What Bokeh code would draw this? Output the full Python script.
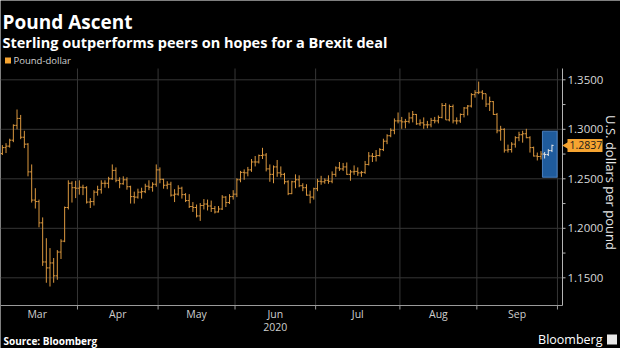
import math
import pandas as pd
from bokeh.plotting import figure
from bokeh.models import ColumnDataSource, Range1d
from bokeh.core.properties import value
from bokeh.embed import file_html
from bokeh.resources import INLINE

# ---------------- data (GBP/USD daily OHLC) ----------------
title = "Pound Ascent"
subtitle = "Sterling outperforms peers on hopes for a Brexit deal"
series_name = "Pound-dollar"
y_title = "U.S. dollars per pound"
source_text = "Source: Bloomberg"
brand_text = "Bloomberg"
dates = pd.bdate_range("2020-03-02", "2020-09-29")
month_labels = ["Mar", "Apr", "May", "Jun", "Jul", "Aug", "Sep"]
year_label = "2020"
y_ticks = [1.15, 1.20, 1.25, 1.30, 1.35]
y_minor = [1.175, 1.225, 1.275, 1.325]
last_value = 1.2837

opens = [
    1.2825, 1.2755, 1.2815, 1.2830, 1.2890, 1.3040, 1.3110, 1.2920, 1.2850, 1.2570, 1.2285,
    1.2270, 1.2055, 1.1660, 1.1600, 1.1650, 1.1520, 1.1760, 1.1870, 1.2210, 1.2455, 1.2410,
    1.2405, 1.2415, 1.2410, 1.2265, 1.2270, 1.2365, 1.2390, 1.2455, 1.2455, 1.2500, 1.2585,
    1.2485, 1.2450, 1.2490, 1.2420, 1.2320, 1.2315, 1.2365, 1.2370, 1.2425, 1.2415, 1.2445,
    1.2590, 1.2495, 1.2435, 1.2445, 1.2335, 1.2345, 1.2405, 1.2340, 1.2280, 1.2220, 1.2210,
    1.2125, 1.2230, 1.2245, 1.2225, 1.2200, 1.2165, 1.2195, 1.2315, 1.2260, 1.2320,
    1.2345, 1.2490, 1.2565, 1.2560, 1.2590, 1.2670, 1.2670, 1.2735, 1.2740, 1.2600, 1.2545,
    1.2620, 1.2560, 1.2545, 1.2470, 1.2350, 1.2470, 1.2490, 1.2430, 1.2410, 1.2335, 1.2315,
    1.2400, 1.2475, 1.2470, 1.2485, 1.2475, 1.2545, 1.2610, 1.2600, 1.2620, 1.2545, 1.2570,
    1.2575, 1.2560, 1.2565, 1.2645, 1.2730, 1.2725, 1.2735, 1.2795, 1.2880, 1.2935, 1.2990,
    1.3085,
    1.3085, 1.3075, 1.3080, 1.3115, 1.3150, 1.3055, 1.3065, 1.3045, 1.3045, 1.3090, 1.3085,
    1.3120, 1.3240, 1.3095, 1.3230, 1.3085, 1.3085, 1.3150, 1.3215, 1.3235, 1.3350,
    1.3370, 1.3375, 1.3360, 1.3255, 1.3280, 1.3150, 1.2985, 1.3000, 1.2790, 1.2795, 1.2850,
    1.2915, 1.2945, 1.2955, 1.2915, 1.2815, 1.2730, 1.2725, 1.2750, 1.2745, 1.2785,
]
highs = [
    1.2870, 1.2840, 1.2860, 1.2905, 1.3050, 1.3200, 1.3145, 1.2985, 1.2860, 1.2645, 1.2405,
    1.2290, 1.2110, 1.1900, 1.1800, 1.1700, 1.1780, 1.1890, 1.2220, 1.2485, 1.2475, 1.2480,
    1.2485, 1.2440, 1.2425, 1.2305, 1.2385, 1.2430, 1.2485, 1.2485, 1.2520, 1.2645, 1.2615,
    1.2515, 1.2525, 1.2515, 1.2430, 1.2370, 1.2400, 1.2410, 1.2450, 1.2485, 1.2465, 1.2645,
    1.2615, 1.2500, 1.2475, 1.2470, 1.2395, 1.2435, 1.2420, 1.2355, 1.2345, 1.2265, 1.2240,
    1.2255, 1.2295, 1.2290, 1.2280, 1.2225, 1.2225, 1.2335, 1.2325, 1.2345, 1.2385,
    1.2505, 1.2580, 1.2595, 1.2620, 1.2700, 1.2730, 1.2745, 1.2813, 1.2760, 1.2645, 1.2635,
    1.2690, 1.2625, 1.2560, 1.2485, 1.2480, 1.2545, 1.2535, 1.2455, 1.2445, 1.2380, 1.2410,
    1.2500, 1.2530, 1.2505, 1.2535, 1.2575, 1.2625, 1.2670, 1.2660, 1.2665, 1.2590, 1.2635,
    1.2615, 1.2580, 1.2680, 1.2770, 1.2760, 1.2790, 1.2810, 1.2905, 1.2950, 1.3010, 1.3110,
    1.3170,
    1.3125, 1.3105, 1.3170, 1.3185, 1.3155, 1.3100, 1.3120, 1.3085, 1.3115, 1.3125, 1.3140,
    1.3265, 1.3265, 1.3250, 1.3250, 1.3120, 1.3160, 1.3225, 1.3245, 1.3365, 1.3395,
    1.3482, 1.3395, 1.3360, 1.3330, 1.3285, 1.3165, 1.3035, 1.3010, 1.2845, 1.2870, 1.2930,
    1.2975, 1.2985, 1.3005, 1.2930, 1.2825, 1.2765, 1.2780, 1.2770, 1.2800, 1.2845,
]
lows = [
    1.2725, 1.2740, 1.2760, 1.2815, 1.2870, 1.3000, 1.2900, 1.2810, 1.2525, 1.2260, 1.2200,
    1.2010, 1.1620, 1.1450, 1.1412, 1.1450, 1.1480, 1.1690, 1.1860, 1.2190, 1.2260, 1.2305,
    1.2340, 1.2335, 1.2250, 1.2205, 1.2230, 1.2330, 1.2350, 1.2410, 1.2405, 1.2490, 1.2465,
    1.2405, 1.2440, 1.2390, 1.2250, 1.2250, 1.2300, 1.2300, 1.2355, 1.2385, 1.2370, 1.2420,
    1.2455, 1.2400, 1.2395, 1.2320, 1.2265, 1.2330, 1.2300, 1.2265, 1.2205, 1.2165, 1.2110,
    1.2075, 1.2190, 1.2180, 1.2165, 1.2150, 1.2160, 1.2185, 1.2215, 1.2245, 1.2290,
    1.2315, 1.2465, 1.2490, 1.2525, 1.2570, 1.2625, 1.2655, 1.2700, 1.2575, 1.2470, 1.2455,
    1.2520, 1.2515, 1.2445, 1.2335, 1.2345, 1.2405, 1.2415, 1.2375, 1.2330, 1.2252, 1.2290,
    1.2375, 1.2440, 1.2450, 1.2450, 1.2455, 1.2520, 1.2580, 1.2580, 1.2540, 1.2480, 1.2540,
    1.2530, 1.2520, 1.2550, 1.2635, 1.2670, 1.2675, 1.2725, 1.2780, 1.2850, 1.2920, 1.2950,
    1.3060,
    1.3005, 1.3010, 1.3060, 1.3070, 1.3045, 1.3035, 1.3005, 1.3010, 1.3020, 1.3060, 1.3060,
    1.3110, 1.3095, 1.3080, 1.3060, 1.3050, 1.3065, 1.3120, 1.3140, 1.3220, 1.3320,
    1.3355, 1.3300, 1.3225, 1.3185, 1.3145, 1.2960, 1.2885, 1.2765, 1.2765, 1.2765, 1.2815,
    1.2880, 1.2865, 1.2910, 1.2765, 1.2725, 1.2685, 1.2695, 1.2705, 1.2730, 1.2770,
]
closes = [
    1.2755, 1.2815, 1.2830, 1.2890, 1.3040, 1.3110, 1.2920, 1.2850, 1.2570, 1.2285, 1.2270,
    1.2055, 1.1660, 1.1600, 1.1650, 1.1520, 1.1760, 1.1870, 1.2210, 1.2455, 1.2410, 1.2405,
    1.2415, 1.2410, 1.2265, 1.2270, 1.2365, 1.2390, 1.2455, 1.2455, 1.2500, 1.2585, 1.2485,
    1.2450, 1.2490, 1.2420, 1.2320, 1.2315, 1.2365, 1.2370, 1.2425, 1.2415, 1.2445, 1.2590,
    1.2495, 1.2435, 1.2445, 1.2335, 1.2345, 1.2405, 1.2340, 1.2280, 1.2220, 1.2210, 1.2125,
    1.2230, 1.2245, 1.2225, 1.2200, 1.2165, 1.2195, 1.2315, 1.2260, 1.2320, 1.2345,
    1.2490, 1.2565, 1.2560, 1.2590, 1.2670, 1.2670, 1.2735, 1.2740, 1.2600, 1.2545, 1.2620,
    1.2560, 1.2545, 1.2470, 1.2350, 1.2470, 1.2490, 1.2430, 1.2410, 1.2335, 1.2315, 1.2400,
    1.2475, 1.2470, 1.2485, 1.2475, 1.2545, 1.2610, 1.2600, 1.2620, 1.2545, 1.2570, 1.2575,
    1.2560, 1.2565, 1.2645, 1.2730, 1.2725, 1.2735, 1.2795, 1.2880, 1.2935, 1.2990, 1.3085,
    1.3085,
    1.3075, 1.3080, 1.3115, 1.3150, 1.3055, 1.3065, 1.3045, 1.3045, 1.3090, 1.3085, 1.3120,
    1.3240, 1.3095, 1.3230, 1.3085, 1.3085, 1.3150, 1.3215, 1.3235, 1.3350, 1.3370,
    1.3375, 1.3360, 1.3255, 1.3280, 1.3150, 1.2985, 1.3000, 1.2790, 1.2795, 1.2850, 1.2915,
    1.2945, 1.2955, 1.2915, 1.2815, 1.2730, 1.2725, 1.2750, 1.2745, 1.2785, 1.2837,
]
highlight_from = "2020-09-25"   # last days, drawn inside the blue box

n = len(dates)
assert len(opens) == len(highs) == len(lows) == len(closes) == n

# ---------------- layout (reference pixels -> data space) ----------------
X0, XS = -1.8, 3.664          # pixel x of trading-day index 0, pixels per trading day
Y0, YS = 79.3, 990.0          # pixel y of 1.35, pixels per dollar
def px_x(px):
    return (px - X0) / XS
def px_y(py):
    return 1.35 - (py - Y0) / YS

PL, PR, PT, PB = 0, 562, 68, 305    # plot area in pixels

# month boundaries on a trading-day axis
axis_days = pd.bdate_range("2020-03-02", "2020-10-05")
starts = [i for i in range(len(axis_days)) if i == 0 or axis_days[i].month != axis_days[i - 1].month]
bounds = [s - 0.5 for s in starts]
mids = [(bounds[k] + bounds[k + 1]) / 2 for k in range(len(month_labels))]
grid_bounds = bounds[1:len(month_labels) + 1]

hi_start = list(dates.strftime("%Y-%m-%d")).index(highlight_from)

def make_source(sel):
    return ColumnDataSource(dict(
        x=[i for i in sel], xl=[i - 0.45 for i in sel], xr=[i + 0.45 for i in sel],
        o=[opens[i] for i in sel], h=[highs[i] for i in sel],
        l=[lows[i] for i in sel], c=[closes[i] for i in sel]))

src_main = make_source(range(0, hi_start))
src_hi = make_source(range(hi_start, n))

# ---------------- figure ----------------
FONT = "Open Sans"
p = figure(width=620, height=348,
           x_range=Range1d(px_x(0), px_x(620)), y_range=Range1d(px_y(348), px_y(0)),
           output_backend="svg", toolbar_location=None,
           x_axis_location=None, y_axis_location=None,
           background_fill_color="black", border_fill_color="black",
           outline_line_color=None, min_border=0)
p.grid.visible = False

GRID = "#363636"
# vertical month grid lines and horizontal price grid lines
p.segment(x0=grid_bounds, x1=grid_bounds, y0=[px_y(PT)] * len(grid_bounds),
          y1=[px_y(PB)] * len(grid_bounds), line_color=GRID, line_width=1)
p.segment(x0=[px_x(PL)] * len(y_ticks), x1=[px_x(PR)] * len(y_ticks),
          y0=y_ticks, y1=y_ticks, line_color=GRID, line_width=1)

# axes lines and ticks
AX = "#9a9a9a"
p.segment(x0=[px_x(PL)], x1=[px_x(PR)], y0=[px_y(PB)], y1=[px_y(PB)], line_color=AX, line_width=1)
p.segment(x0=[px_x(PR)], x1=[px_x(PR)], y0=[px_y(PT)], y1=[px_y(PB)], line_color="#b4b4b4", line_width=1)
p.segment(x0=grid_bounds, x1=grid_bounds, y0=[px_y(PB)] * len(grid_bounds),
          y1=[px_y(PB + 4)] * len(grid_bounds), line_color=AX, line_width=1)
all_yt = y_ticks + y_minor
p.segment(x0=[px_x(PR)] * len(all_yt), x1=[px_x(PR + 3)] * len(all_yt),
          y0=all_yt, y1=all_yt, line_color="#b4b4b4", line_width=1)

# tick labels
p.text(x=[px_x(PR + 5)] * len(y_ticks), y=y_ticks, text=[f"{t:.4f}" for t in y_ticks],
       text_font=value(FONT), text_font_size=value("11.5px"), text_color="#d8d8d8",
       text_align="left", text_baseline="middle")
p.text(x=mids, y=[px_y(313.5)] * len(mids), text=month_labels,
       text_font=value(FONT), text_font_size=value("10.5px"), text_color="#cfcfcf",
       text_align="center", text_baseline="middle")
p.text(x=[mids[3]], y=[px_y(326.5)], text=[year_label],
       text_font=value(FONT), text_font_size=value("10.5px"), text_color="#cfcfcf",
       text_align="center", text_baseline="middle")
p.text(x=[px_x(610.5)], y=[px_y(182)], text=[y_title], angle=-math.pi / 2,
       text_font=value(FONT), text_font_size=value("13px"), text_color="#e6e6e6",
       text_align="center", text_baseline="middle")

# highlight box for the latest days
p.quad(left=[148.4], right=[152.4], bottom=[1.2516], top=[1.2981],
       fill_color="#1f5b9c", line_color="#4a80c0", line_width=1)

# OHLC bars
BAR = "#db983f"
for src, col in ((src_main, BAR), (src_hi, "#e4e4e4")):
    p.segment(x0="x", y0="l", x1="x", y1="h", source=src, line_color=col, line_width=1)
    p.segment(x0="xl", y0="o", x1="x", y1="o", source=src, line_color=col, line_width=1)
    p.segment(x0="x", y0="c", x1="xr", y1="c", source=src, line_color=col, line_width=1)

# last-value tag
TAG = "#f6a431"
half = 6.5 / YS
p.quad(left=[px_x(567)], right=[px_x(602)], bottom=[last_value - half], top=[last_value + half],
       fill_color=TAG, line_color=None)
p.scatter(x=[px_x(567.5)], y=[last_value], marker="triangle", size=10, angle=math.pi / 2,
          fill_color=TAG, line_color=None)
p.text(x=[px_x(569)], y=[last_value], text=[f"{last_value:.4f}"],
       text_font=value(FONT), text_font_size=value("10.5px"), text_color="#1a1a1a",
       text_align="left", text_baseline="middle")

# titles and legend
p.text(x=[px_x(2)], y=[px_y(21.5)], text=[title], text_font=value(FONT),
       text_font_size=value("19px"), text_font_style="bold", text_color="white",
       text_align="left", text_baseline="alphabetic")
p.text(x=[px_x(2)], y=[px_y(41.5)], text=[subtitle], text_font=value(FONT),
       text_font_size=value("14.5px"), text_font_style="bold", text_color="white",
       text_align="left", text_baseline="alphabetic")
p.scatter(x=[px_x(7.5)], y=[px_y(60)], marker="square", size=6,
          fill_color=TAG, line_color=None)
p.text(x=[px_x(13)], y=[px_y(60)], text=[series_name], text_font=value(FONT),
       text_font_size=value("9.5px"), text_color="#d2d2d2",
       text_align="left", text_baseline="middle")

# footer
p.text(x=[px_x(3)], y=[px_y(340)], text=[source_text], text_font=value(FONT),
       text_font_size=value("10px"), text_font_style="bold", text_color="white",
       text_align="left", text_baseline="middle")
p.text(x=[px_x(602)], y=[px_y(339)], text=[brand_text], text_font=value(FONT),
       text_font_size=value("12.5px"), text_color="white",
       text_align="right", text_baseline="middle")
p.scatter(x=[px_x(611.5)], y=[px_y(339)], marker="square", size=10,
          fill_color="#e8e8e8", line_color=None)

open("out.html", "w").write(file_html(p, INLINE))
